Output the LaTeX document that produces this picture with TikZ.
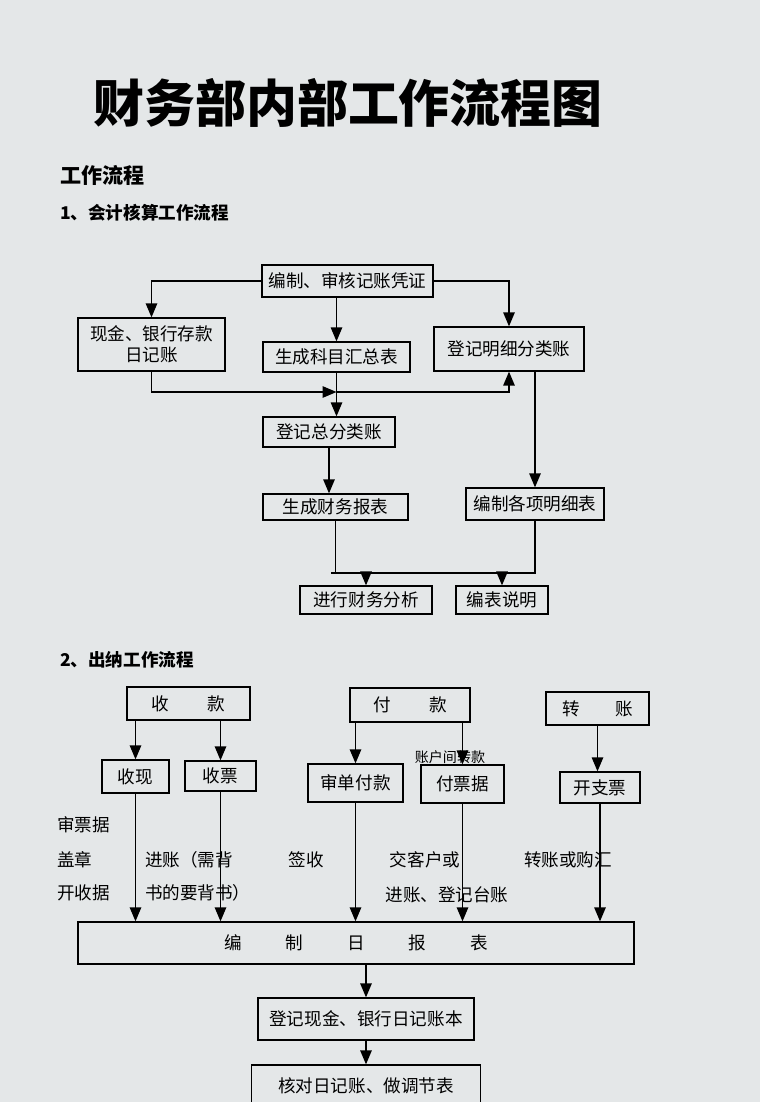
\documentclass[tikz,border=0pt]{standalone}
\usepackage{fontspec}
\setmainfont{Noto Sans CJK SC}
\usepackage{tikz}
\usetikzlibrary{arrows,calc}
\definecolor{PaperGray}{HTML}{E4E7E8}
\tikzset{
  box/.style={draw, thick, inner sep=0pt, font=\fontsize{10}{12}\selectfont},
  lbl/.style={inner sep=1pt, font=\fontsize{10}{12}\selectfont},
  arr/.style={thick, -triangle 45}
}
\begin{document}
\begin{tikzpicture}[x=0.02cm, y=-0.02cm]
				% paper
				\fill[PaperGray] (0,0) rectangle (760,1102);
				\useasboundingbox (0,0) rectangle (760,1102);
				% headings
				\node[lbl, font=\fontsize{29}{32}\selectfont\bfseries] (title) at (348,103) {财务部内部工作流程图};
				\node[lbl, anchor=west, font=\fontsize{12}{14}\selectfont\bfseries] (h0) at (58,175) {工作流程};
				\node[lbl, anchor=west, font=\fontsize{10}{12}\selectfont\bfseries] (h1) at (58,213) {1、会计核算工作流程};
				\node[lbl, anchor=west, font=\fontsize{10}{12}\selectfont\bfseries] (h2) at (58,660) {2、出纳工作流程};

				%% accounting
				\node[box, minimum width=3.42cm, minimum height=0.64cm] (pingzheng) at (347.5,281) {编制、审核记账凭证};
				\node[box, minimum width=2.94cm, minimum height=1.06cm, align=center] (rijizhang) at (151.5,344.5) {现金、银行存款\\日记账};
				\node[box, minimum width=2.94cm, minimum height=0.6cm] (huizong) at (336.5,357) {生成科目汇总表};
				\node[box, minimum width=3.0cm, minimum height=0.88cm] (mingxi) at (509,349) {登记明细分类账};
				\node[box, minimum width=2.64cm, minimum height=0.6cm] (zongzhang) at (329,432) {登记总分类账};
				\node[box, minimum width=2.9cm, minimum height=0.52cm] (baobiao) at (335.5,507) {生成财务报表};
				\node[box, minimum width=2.76cm, minimum height=0.64cm] (gexiang) at (535,504) {编制各项明细表};
				\node[box, minimum width=2.64cm, minimum height=0.56cm] (fenxi) at (366,600) {进行财务分析};
				\node[box, minimum width=1.84cm, minimum height=0.56cm] (shuoming) at (502,600) {编表说明};
				\coordinate (m1) at (336.5,392);
				\coordinate (m2) at (331,573);

				\draw[arr] (pingzheng.west) -| (rijizhang.north);
				\draw[arr] (pingzheng.south -| huizong) -- (huizong.north);
				\draw[arr] (pingzheng.east) -| (mingxi.north);
				\draw[arr] (rijizhang.south) |- (m1);
				\draw[arr] (m1) -| (mingxi.south);
				\draw[arr] (huizong.south) -- (huizong.south |- zongzhang.north);
				\draw[arr] (zongzhang.south) -- (zongzhang.south |- baobiao.north);
				\draw[arr] (mingxi.south -| gexiang.north) -- (gexiang.north);
				\draw[thick] (baobiao.south) |- (m2) -| (gexiang.south);
				\draw[arr] (fenxi.north |- m2) -- (fenxi.north);
				\draw[arr] (shuoming.north |- m2) -- (shuoming.north);

				%% cashier
				\node[box, minimum width=2.46cm, minimum height=0.66cm] (shoukuan) at (188.5,703.5) {收\hspace{2.2em}款};
				\node[box, minimum width=2.4cm, minimum height=0.68cm] (fukuan) at (410,705) {付\hspace{2.2em}款};
				\node[box, minimum width=2.06cm, minimum height=0.66cm] (zhuanzhang) at (597.5,708.5) {转\hspace{2em}账};
				\node[box, minimum width=1.34cm, minimum height=0.66cm] (shouxian) at (135.5,776.5) {收现};
				\node[box, minimum width=1.42cm, minimum height=0.6cm] (shoupiao) at (220.5,776) {收票};
				\node[box, minimum width=1.9cm, minimum height=0.76cm] (shendan) at (355.5,783) {审单付款};
				\node[box, minimum width=1.66cm, minimum height=0.76cm] (fupiao) at (462.5,784) {付票据};
				\node[box, minimum width=1.6cm, minimum height=0.62cm] (zhipiao) at (600,787.5) {开支票};
				\node[box, minimum width=11.12cm, minimum height=0.84cm] (ribao) at (356,943) {编\hspace{2.5em}制\hspace{2.5em}日\hspace{2.5em}报\hspace{2.5em}表};
				\node[box, minimum width=4.32cm, minimum height=0.84cm] (dengji) at (366,1019) {登记现金、银行日记账本};
				\node[box, minimum width=4.58cm, minimum height=0.84cm] (hedui) at (366,1086) {核对日记账、做调节表};

				% notes
				\node[lbl, font=\fontsize{8}{10}\selectfont] (zhuankuan) at (450,757) {账户间转款};
				\node[lbl, anchor=west] (n1) at (55,825) {审票据};
				\node[lbl, anchor=west] (n2) at (55,860) {盖章};
				\node[lbl, anchor=west] (n3) at (55,893) {开收据};
				\node[lbl, anchor=west] (n4) at (143,860) {进账（需背};
				\node[lbl, anchor=west] (n5) at (143,893) {书的要背书）};
				\node[lbl] (n6) at (306,860) {签收};
				\node[lbl] (n7) at (425,860) {交客户或};
				\node[lbl] (n8) at (447,895) {进账、登记台账};
				\node[lbl] (n9) at (568,860) {转账或购汇};

				\draw[arr] (shoukuan.south -| shouxian) -- (shouxian.north);
				\draw[arr] (shoukuan.south -| shoupiao) -- (shoupiao.north);
				\draw[arr] (fukuan.south -| shendan) -- (shendan.north);
				\draw[arr] (fukuan.south -| fupiao) -- (fupiao.north);
				\draw[arr] (zhuanzhang.south) -- (zhuanzhang.south |- zhipiao.north);
				\foreach \b in {shouxian,shoupiao,shendan,fupiao,zhipiao}
					\draw[arr] (\b.south) -- (\b.south |- ribao.north);
				\draw[arr] (ribao.south -| dengji.north) -- (dengji.north);
				\draw[arr] (dengji.south) -- (hedui.north);
			\end{tikzpicture}
\end{document}
